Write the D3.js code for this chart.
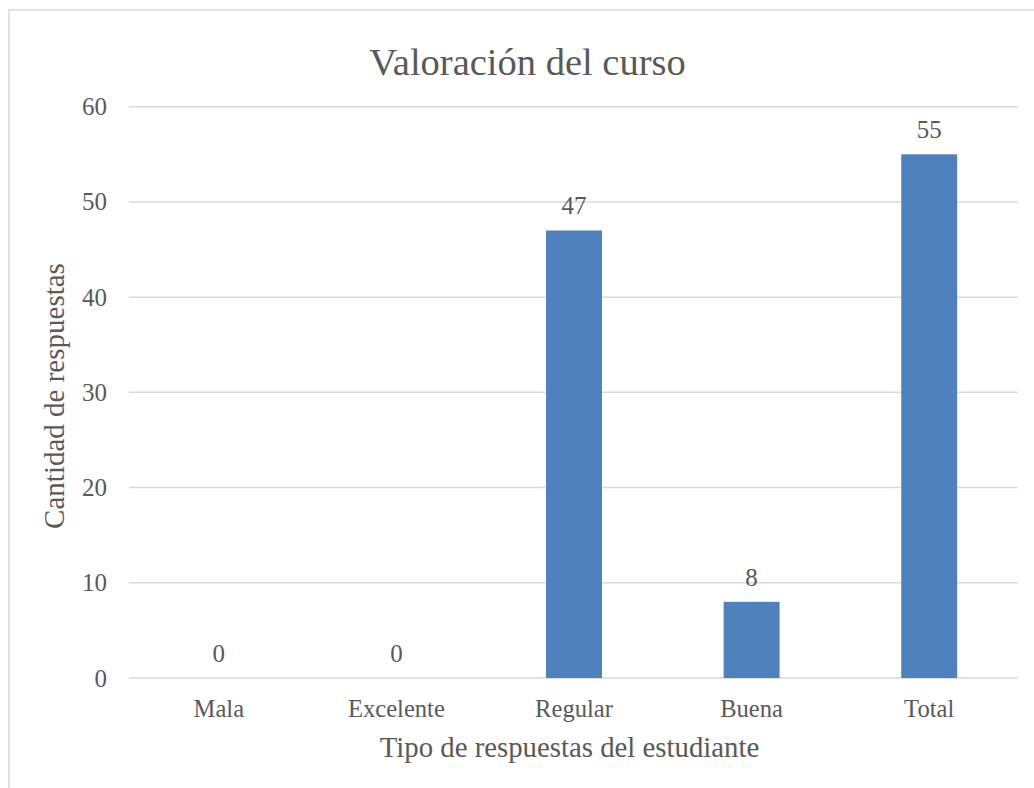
<!DOCTYPE html>
<html>
<head>
<meta charset="utf-8">
<script src="https://cdn.jsdelivr.net/npm/d3@7"></script>
<style>
  html, body { margin: 0; padding: 0; background: #fff; }
  svg { display: block; }
  text { font-family: "Liberation Serif", "DejaVu Serif", serif; fill: #595959; }
</style>
</head>
<body>
<svg id="chart" width="1034" height="788"></svg>
<script>
// Course rating survey: number of responses per answer type
const categories = ["Mala", "Excelente", "Regular", "Buena", "Total"];
const responses = [0, 0, 47, 8, 55];
const yTicks = [0, 10, 20, 30, 40, 50, 60];

const chartTitle = "Valoración del curso";
const xTitle = "Tipo de respuestas del estudiante";
const yTitle = "Cantidad de respuestas";

const svg = d3.select("#chart");
const W = 1034, H = 788;

// Chart frame (extends past the visible page on the right and bottom)
svg.append("rect")
  .attr("x", 9).attr("y", 10)
  .attr("width", W + 40).attr("height", H + 40)
  .attr("fill", "none")
  .attr("stroke", "#d9d9d9")
  .attr("stroke-width", 1.5);

const plot = { left: 130, right: 1018, top: 106.7, bottom: 678 };

const x = d3.scaleBand()
  .domain(categories)
  .range([plot.left, plot.right])
  .paddingInner(0.685)
  .paddingOuter(0.3425);

const y = d3.scaleLinear()
  .domain([0, 60])
  .range([plot.bottom, plot.top]);

// Horizontal gridlines
svg.append("g")
  .selectAll("line")
  .data(yTicks)
  .join("line")
  .attr("x1", plot.left - 1)
  .attr("x2", plot.right)
  .attr("y1", d => y(d))
  .attr("y2", d => y(d))
  .attr("stroke", "#d9d9d9")
  .attr("stroke-width", 1.5);

// Y tick labels
svg.append("g")
  .selectAll("text")
  .data(yTicks)
  .join("text")
  .attr("x", 107)
  .attr("y", d => y(d) + 8.5)
  .attr("text-anchor", "end")
  .attr("font-size", 25)
  .text(d => d);

// Bars
svg.append("g")
  .selectAll("rect")
  .data(categories)
  .join("rect")
  .attr("x", d => x(d))
  .attr("width", x.bandwidth())
  .attr("y", (d, i) => y(responses[i]))
  .attr("height", (d, i) => y(0) - y(responses[i]))
  .attr("fill", "#4f81bd");

// Value labels above bars
svg.append("g")
  .selectAll("text")
  .data(categories)
  .join("text")
  .attr("x", d => x(d) + x.bandwidth() / 2)
  .attr("y", (d, i) => y(responses[i]) - 16)
  .attr("text-anchor", "middle")
  .attr("font-size", 25)
  .text((d, i) => responses[i]);

// Category labels
svg.append("g")
  .selectAll("text")
  .data(categories)
  .join("text")
  .attr("x", d => x(d) + x.bandwidth() / 2)
  .attr("y", 717)
  .attr("text-anchor", "middle")
  .attr("font-size", 24.6)
  .text(d => d);

// Titles
svg.append("text")
  .attr("x", 527.5)
  .attr("y", 75)
  .attr("text-anchor", "middle")
  .attr("font-size", 38.5)
  .text(chartTitle);

svg.append("text")
  .attr("x", 569.5)
  .attr("y", 757)
  .attr("text-anchor", "middle")
  .attr("font-size", 28.8)
  .text(xTitle);

svg.append("text")
  .attr("transform", "translate(64,396) rotate(-90)")
  .attr("text-anchor", "middle")
  .attr("font-size", 29)
  .text(yTitle);
</script>
</body>
</html>
